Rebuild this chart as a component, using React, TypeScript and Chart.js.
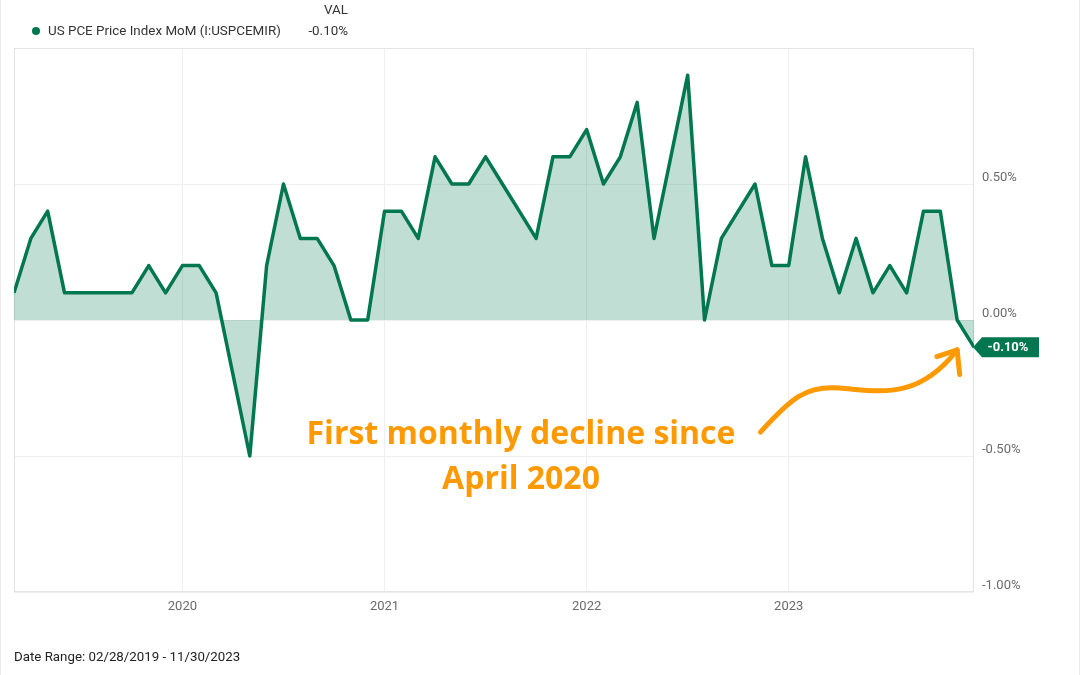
import React, { useEffect, useRef } from "react";
import { Chart, registerables } from "chart.js";

Chart.register(...registerables);

// Month-end observations, 02/2019 .. 11/2023
const months: string[] = [
  "2019-02", "2019-03", "2019-04", "2019-05", "2019-06", "2019-07", "2019-08", "2019-09", "2019-10", "2019-11", "2019-12",
  "2020-01", "2020-02", "2020-03", "2020-04", "2020-05", "2020-06", "2020-07", "2020-08", "2020-09", "2020-10", "2020-11", "2020-12",
  "2021-01", "2021-02", "2021-03", "2021-04", "2021-05", "2021-06", "2021-07", "2021-08", "2021-09", "2021-10", "2021-11", "2021-12",
  "2022-01", "2022-02", "2022-03", "2022-04", "2022-05", "2022-06", "2022-07", "2022-08", "2022-09", "2022-10", "2022-11", "2022-12",
  "2023-01", "2023-02", "2023-03", "2023-04", "2023-05", "2023-06", "2023-07", "2023-08", "2023-09", "2023-10", "2023-11",
];

// US PCE Price Index MoM, %
const pceMoM: number[] = [
  0.1, 0.3, 0.4, 0.1, 0.1, 0.1, 0.1, 0.1, 0.2, 0.1, 0.2,
  0.2, 0.1, -0.2, -0.5, 0.2, 0.5, 0.3, 0.3, 0.2, 0.0, 0.0, 0.4,
  0.4, 0.3, 0.6, 0.5, 0.5, 0.6, 0.5, 0.4, 0.3, 0.6, 0.6, 0.7,
  0.5, 0.6, 0.8, 0.3, 0.6, 0.9, 0.0, 0.3, 0.4, 0.5, 0.2, 0.2,
  0.6, 0.3, 0.1, 0.3, 0.1, 0.2, 0.1, 0.4, 0.4, 0.0, -0.1,
];

const yTicks: number[] = [-1, -0.5, 0, 0.5, 1];
const seriesName = "US PCE Price Index MoM (I:USPCEMIR)";
const lastValueLabel = "-0.10%";
const dateRangeLabel = "Date Range: 02/28/2019 - 11/30/2023";
const noteLines: string[] = ["First monthly decline since", "April 2020"];

const GREEN = "#00774f";
const ORANGE = "#ff9900";

// year gridlines sit at the end of each December
const yearTickIdx: number[] = months
  .map((m, i) => (m.endsWith("-12") ? i : -1))
  .filter((i) => i >= 0);
const yearTickLabel = (i: number) => String(Number(months[i].slice(0, 4)) + 1);

// annotation arrow, in (month index, value) units
const arrowPath: number[][] = [
  [44.32, -0.412],
  [46.1, -0.29], [47.0, -0.24], [49.0, -0.25],
  [51.3, -0.26], [53.6, -0.3], [56.0, -0.11],
];
const arrowHead: number[][] = [[54.8, -0.135], [56.0, -0.11], [56.15, -0.2]];

export default function App() {
  const ref = useRef<HTMLCanvasElement | null>(null);

  useEffect(() => {
    if (!ref.current) return;
    const framePlugin = {
      id: "frame",
      beforeDatasetsDraw(chart: any) {
        const { ctx, chartArea: a } = chart;
        ctx.save();
        ctx.strokeStyle = "#e4e4e4";
        ctx.lineWidth = 1;
        ctx.strokeRect(a.left + 0.5, a.top + 0.5, a.right - a.left - 1, a.bottom - a.top - 1);
        ctx.restore();
      },
      afterDatasetsDraw(chart: any) {
        const { ctx } = chart;
        const xs = chart.scales.x;
        const ys = chart.scales.y;
        const P = (p: number[]) => [xs.getPixelForValue(p[0]), ys.getPixelForValue(p[1])];
        // arrow
        ctx.save();
        ctx.strokeStyle = ORANGE;
        ctx.lineWidth = 5;
        ctx.lineCap = "round";
        ctx.lineJoin = "round";
        ctx.beginPath();
        const p0 = P(arrowPath[0]);
        ctx.moveTo(p0[0], p0[1]);
        for (let k = 1; k + 2 < arrowPath.length; k += 3) {
          const c1 = P(arrowPath[k]);
          const c2 = P(arrowPath[k + 1]);
          const e = P(arrowPath[k + 2]);
          ctx.bezierCurveTo(c1[0], c1[1], c2[0], c2[1], e[0], e[1]);
        }
        ctx.stroke();
        ctx.beginPath();
        const h0 = P(arrowHead[0]);
        ctx.moveTo(h0[0], h0[1]);
        for (let k = 1; k < arrowHead.length; k++) {
          const h = P(arrowHead[k]);
          ctx.lineTo(h[0], h[1]);
        }
        ctx.stroke();
        ctx.restore();

        // last value tag
        const last = chart.getDatasetMeta(0).data[pceMoM.length - 1];
        const px = last.x;
        const py = last.y;
        ctx.save();
        ctx.fillStyle = GREEN;
        ctx.beginPath();
        ctx.moveTo(px - 1, py);
        ctx.lineTo(px + 8, py - 10);
        ctx.lineTo(px + 65, py - 10);
        ctx.lineTo(px + 65, py + 10);
        ctx.lineTo(px + 8, py + 10);
        ctx.closePath();
        ctx.fill();
        ctx.fillStyle = "#ffffff";
        ctx.font = "bold 13px Roboto";
        ctx.textAlign = "center";
        ctx.textBaseline = "middle";
        ctx.fillText(lastValueLabel, px + 34, py + 0.5);
        ctx.restore();
      },
    };

    const chart = new Chart(ref.current, {
      type: "line",
      data: {
        datasets: [
          {
            label: seriesName,
            data: pceMoM.map((v, i) => ({ x: i, y: v })),
            borderColor: GREEN,
            borderWidth: 3.5,
            backgroundColor: "rgba(0,119,79,0.245)",
            fill: "origin",
            pointRadius: 0,
            tension: 0,
            borderJoinStyle: "round",
          },
        ],
      },
      options: {
        animation: false,
        responsive: true,
        maintainAspectRatio: false,
        layout: { padding: { left: 13, top: 48, right: 0, bottom: 0 } },
        plugins: { legend: { display: false }, tooltip: { enabled: false } },
        scales: {
          x: {
            type: "linear",
            min: 0,
            max: pceMoM.length - 1,
            afterBuildTicks: (s: any) => {
              s.ticks = yearTickIdx.map((v) => ({ value: v }));
            },
            afterFit: (s: any) => {
              s.height = 83;
            },
            ticks: {
              callback: (v: any) => yearTickLabel(Number(v)),
              color: "#6b6b6b",
              font: { family: "Roboto", size: 13 },
              padding: 7,
              maxRotation: 0,
              autoSkip: false,
            },
            grid: { color: "#efefef", drawTicks: false },
            border: { display: false },
          },
          y: {
            position: "right",
            min: -1,
            max: 1,
            afterBuildTicks: (s: any) => {
              s.ticks = yTicks.map((v) => ({ value: v }));
            },
            afterFit: (s: any) => {
              s.width = 105;
            },
            ticks: {
              callback: (v: any) => (Number(v) >= 1 ? "" : Number(v).toFixed(2) + "%"),
              color: "#6b6b6b",
              font: { family: "Roboto", size: 13 },
              padding: 8,
              labelOffset: -6,
            },
            grid: { color: "#efefef", drawTicks: false },
            border: { display: false },
          },
        },
      },
      plugins: [framePlugin],
    } as any);
    return () => chart.destroy();
  }, []);

  return (
    <div
      style={{
        position: "fixed",
        left: 0,
        top: 0,
        width: 1080,
        height: 675,
        background: "#ffffff",
        fontFamily: "Roboto",
        boxSizing: "border-box",
        borderLeft: "1px solid #ececec",
        borderRight: "1px solid #ececec",
        overflow: "hidden",
      }}
    >
      <canvas ref={ref} style={{ position: "absolute", left: 0, top: 0, width: 1080, height: 675 }} />
      <div style={{ position: "absolute", left: 31, top: 27, width: 8, height: 8, borderRadius: 4, background: GREEN }} />
      <div style={{ position: "absolute", left: 47, top: 23, fontSize: 13.4, color: "#333", whiteSpace: "nowrap", lineHeight: "16px" }}>
        {seriesName}
      </div>
      <div style={{ position: "absolute", right: 1080 - 349, top: 2, fontSize: 13.4, color: "#333", lineHeight: "16px" }}>VAL</div>
      <div style={{ position: "absolute", right: 1080 - 349, top: 23, fontSize: 13.4, color: "#333", lineHeight: "16px" }}>
        {lastValueLabel}
      </div>
      <div style={{ position: "absolute", left: 13, top: 649, fontSize: 13.3, color: "#222", whiteSpace: "nowrap", lineHeight: "16px" }}>
        {dateRangeLabel}
      </div>
      <div
        style={{
          position: "absolute",
          left: 220,
          width: 600,
          top: 409,
          textAlign: "center",
          fontFamily: "'Open Sans'",
          fontWeight: 700,
          fontSize: 32,
          lineHeight: "45px",
          color: ORANGE,
        }}
      >
        {noteLines.map((l) => (
          <div key={l}>{l}</div>
        ))}
      </div>
    </div>
  );
}
